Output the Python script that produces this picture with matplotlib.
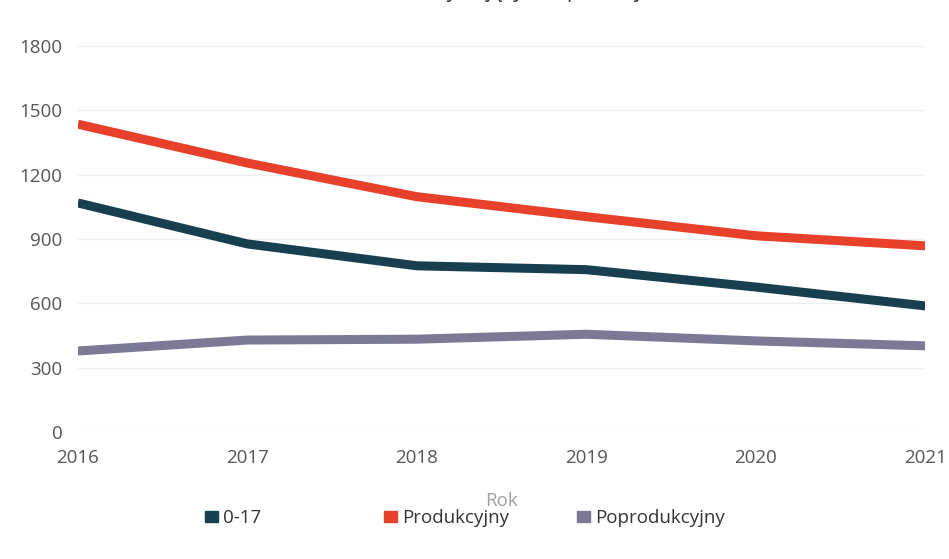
import matplotlib.pyplot as plt
from matplotlib.patches import Patch

plt.rcParams['font.family'] = ['Open Sans', 'DejaVu Sans']

years = [2016, 2017, 2018, 2019, 2020, 2021]
wiek_0_17 = [1068, 877, 775, 757, 676, 588]
produkcyjny = [1435, 1254, 1097, 1004, 915, 868]
poprodukcyjny = [378, 429, 433, 456, 425, 402]

labels = ['0-17', 'Produkcyjny', 'Poprodukcyjny']
colors = ['#173f4f', '#e8412b', '#7c7996']

fig = plt.figure(figsize=(9.49, 5.59), dpi=100)
ax = fig.add_axes([0.082, 0.227, 0.893, 0.691])

for vals, c in zip([wiek_0_17, produkcyjny, poprodukcyjny], colors):
    ax.plot(years, vals, color=c, linewidth=6.5, solid_capstyle='butt')

ax.set_xlim(2016, 2021)
ax.set_ylim(0, 1800)
ax.set_yticks(range(0, 1801, 300))
ax.set_xticks(years)
ax.grid(axis='y', color='#efefef', linewidth=1)
for s in ax.spines.values():
    s.set_visible(False)
ax.tick_params(length=0, labelsize=13.5, colors='#555555')
ax.tick_params(axis='x', pad=12)
ax.tick_params(axis='y', pad=11)
ax.set_xlabel('Rok', fontsize=13.5, color='#a0a0a0', labelpad=18)

# title cut off at the top of the picture
fig.text(0.49, 1.005, 'Liczba osób korzystających z pomocy', ha='center', va='baseline',
         fontsize=15, color='#333333')

# legend entries are not evenly spaced, so one legend per entry
legend_x = [0.216, 0.405, 0.608]
for lab, c, x in zip(labels, colors, legend_x):
    fig.legend([Patch(color=c)], [lab], loc='center left', bbox_to_anchor=(x, 0.073),
               frameon=False, fontsize=13.5, labelcolor='#333333', handlelength=0.7,
               handleheight=0.45, handletextpad=0.25, borderpad=0, borderaxespad=0)

fig.savefig('out.png', dpi=100)
